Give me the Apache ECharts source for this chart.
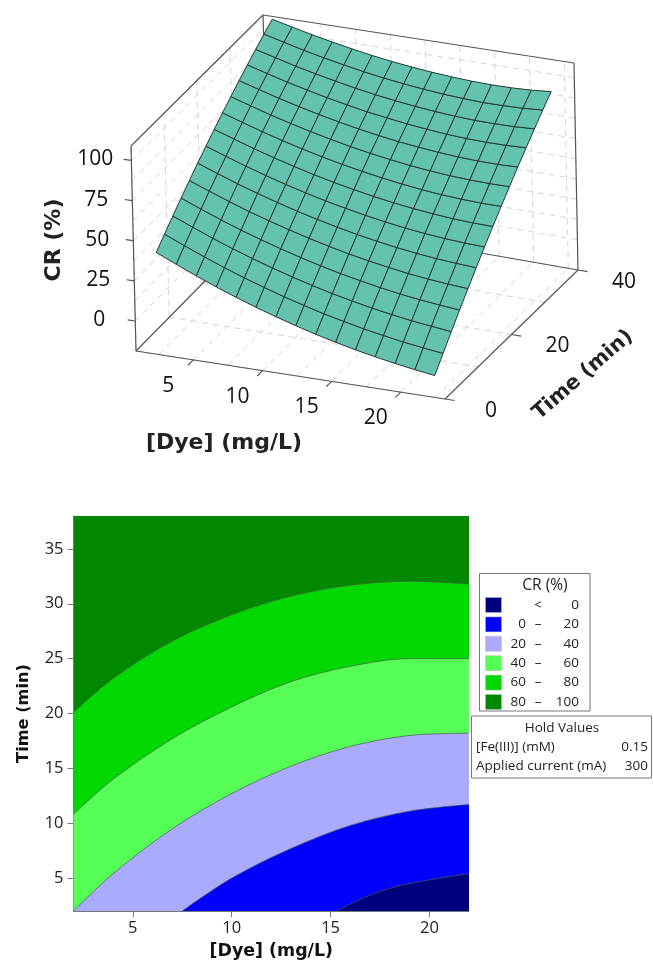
<!DOCTYPE html>
<html>
<head>
<meta charset="utf-8">
<style>html,body{margin:0;padding:0;background:#fff}#c{width:653px;height:962px}</style>
<script src="https://cdn.jsdelivr.net/npm/echarts@6/dist/echarts.min.js"></script>
</head>
<body>
<div id="c"></div>
<script>
// ---------- contour plot data: [Dye, Time] points along each CR level ----------
const contour80 = [[2,20.1],[4,23.2],[7,26.6],[10,29],[13,30.7],[16,31.7],[19,32.05],[22,31.8]];
const contour60 = [[2,10.8],[4,14],[7,17.7],[10,20.6],[13,22.9],[16,24.3],[19,25],[22,25]];
const contour40 = [[2,2],[4,5.4],[7,9.5],[10,12.7],[13,15.2],[16,17],[19,18],[22,18.2]];
const contour20 = [[7.5,2],[10,5],[13,7.7],[16,9.8],[19,11.1],[22,11.7]];
const contour0  = [[15.3,2],[17.2,3.6],[19,4.5],[22,5.4]];

// ---------- legend / hold values ----------
const bandColors = ['#00007f','#0000ff','#aaaaff','#55ff55','#00d800','#008800'];
const bandFrom   = ['', '0', '20', '40', '60', '80'];
const bandSep    = ['<', '\u2013', '\u2013', '\u2013', '\u2013', '\u2013'];
const bandTo     = ['0', '20', '40', '60', '80', '100'];
const holdNames  = ['[Fe(III)] (mM)', 'Applied current (mA)'];
const holdValues = ['0.15', '300'];

// ---------- 3D surface data ----------
const dyeTicks  = [5, 10, 15, 20];
const timeTicks = [0, 20, 40];
const crTicks   = [0, 25, 50, 75, 100];
const contourDyeTicks  = [5, 10, 15, 20];
const contourTimeTicks = [5, 10, 15, 20, 25, 30, 35];
const meshDye  = [2,3.43,4.86,6.29,7.71,9.14,10.57,12,13.43,14.86,16.29,17.71,19.14,20.57,22];
const meshTime = [2,4.57,7.14,9.71,12.29,14.86,17.43,20,22.57,25.14,27.71,30.29,32.86,35.43,38];
// one row per Dye value, one column per Time value
const meshCR = [
 [40,46.1,52.1,58,63.6,69.2,74.5,79.8,84.8,89.7,94.5,99.1,103.6,107.9,112],
 [34.4,40.7,46.9,52.9,58.8,64.5,70,75.5,80.7,85.8,90.8,95.5,100.2,104.7,109],
 [29,35.5,41.8,48,54.1,59.9,65.7,71.3,76.7,81.9,87.1,92,96.8,101.5,106],
 [24,30.7,37.2,43.5,49.7,55.8,61.7,67.5,73,78.5,83.8,88.9,93.9,98.7,103.4],
 [19.4,26.2,32.9,39.4,45.8,52,58,64,69.7,75.3,80.8,86,91.2,96.2,101],
 [15.1,22.1,28.9,35.6,42.1,48.4,54.6,60.7,66.6,72.4,78,83.4,88.7,93.8,98.8],
 [11.1,18.2,25.2,32,38.7,45.2,51.5,57.8,63.8,69.7,75.5,81,86.5,91.8,96.9],
 [7.4,14.7,21.8,28.8,35.6,42.3,48.8,55.2,61.4,67.4,73.3,79.1,84.7,90.1,95.4],
 [4,11.4,18.7,25.8,32.8,39.6,46.3,52.8,59.2,65.4,71.4,77.3,83.1,88.7,94.1],
 [1,8.6,16,23.3,30.4,37.3,44.1,50.8,57.3,63.6,69.9,75.9,81.8,87.5,93.1],
 [-1.8,5.9,13.5,20.9,28.2,35.3,42.2,49.1,55.7,62.2,68.6,74.7,80.8,86.7,92.4],
 [-4.2,3.7,11.4,18.9,26.3,33.6,40.7,47.7,54.4,61.1,67.6,73.9,80.1,86.1,92],
 [-6.4,1.6,9.5,17.2,24.8,32.2,39.5,46.6,53.6,60.4,67,73.5,79.9,86.1,92.1],
 [-8.3,-0.1,8,15.9,23.6,31.2,38.6,45.9,53,60,66.8,73.5,80,86.4,92.6],
 [-10,-1.6,6.6,14.7,22.7,30.4,38.1,45.6,52.9,60,67.1,73.9,80.6,87.2,93.6]
];

// ---------- 3D view: where the box's corners land on the page ----------
const boxRange = {xMin:0.85, xMax:23.2, tMin:0, tMax:40, zMin:-18.7, zMax:109};
const view = {
  floor:{a:[136,351], b:[445,399], c:[578,270], d:[269,216]},
  top:  {a:[131,146], b:[441,187], c:[574,63],  d:[263,15]}
};
function lerp(p,q,s){return [p[0]+(q[0]-p[0])*s,p[1]+(q[1]-p[1])*s];}
function project(x,t,z){
  const u=(x-boxRange.xMin)/(boxRange.xMax-boxRange.xMin),
        v=(t-boxRange.tMin)/(boxRange.tMax-boxRange.tMin),
        w=(z-boxRange.zMin)/(boxRange.zMax-boxRange.zMin);
  const f=lerp(lerp(view.floor.a,view.floor.b,u),lerp(view.floor.d,view.floor.c,u),v);
  const g=lerp(lerp(view.top.a,view.top.b,u),lerp(view.top.d,view.top.c,u),v);
  return lerp(f,g,w);
}

const R=boxRange;
const FONT='"Open Sans", "Noto Sans", sans-serif';
const BOLD='"DejaVu Sans", sans-serif';
// wall and floor grid
const gridSegs=[];
const xGrid=[2.5,5,7.5,10,12.5,15,17.5,20,22.5];
const tGrid=[0,10,20,30,40];
const zGrid=[0,12.5,25,37.5,50,62.5,75,87.5,100];
xGrid.forEach(x=>{gridSegs.push([[x,R.tMin,R.zMin],[x,R.tMax,R.zMin]]);gridSegs.push([[x,R.tMax,R.zMin],[x,R.tMax,R.zMax]]);});
tGrid.forEach(t=>{gridSegs.push([[R.xMin,t,R.zMin],[R.xMax,t,R.zMin]]);gridSegs.push([[R.xMin,t,R.zMin],[R.xMin,t,R.zMax]]);});
zGrid.forEach(z=>{gridSegs.push([[R.xMin,R.tMin,z],[R.xMin,R.tMax,z]]);gridSegs.push([[R.xMin,R.tMax,z],[R.xMax,R.tMax,z]]);});
// frame
const frameSegs=[
 [[R.xMin,R.tMin,R.zMin],[R.xMax,R.tMin,R.zMin]],
 [[R.xMax,R.tMin,R.zMin],[R.xMax,R.tMax,R.zMin]],
 [[R.xMax,R.tMax,R.zMin],[R.xMin,R.tMax,R.zMin]],
 [[R.xMin,R.tMax,R.zMin],[R.xMin,R.tMin,R.zMin]],
 [[R.xMin,R.tMin,R.zMin],[R.xMin,R.tMin,R.zMax]],
 [[R.xMin,R.tMax,R.zMin],[R.xMin,R.tMax,R.zMax]],
 [[R.xMax,R.tMax,R.zMin],[R.xMax,R.tMax,R.zMax]],
 [[R.xMin,R.tMin,R.zMax],[R.xMin,R.tMax,R.zMax]],
 [[R.xMin,R.tMax,R.zMax],[R.xMax,R.tMax,R.zMax]]
];
dyeTicks.forEach(x=>frameSegs.push([[x,R.tMin,R.zMin],[x,R.tMin-1.6,R.zMin]]));
timeTicks.forEach(t=>frameSegs.push([[R.xMax,t,R.zMin],[R.xMax+0.7,t,R.zMin]]));
crTicks.forEach(z=>frameSegs.push([[R.xMin,R.tMin,z],[R.xMin-0.55,R.tMin,z]]));
// tick label anchors
const labels3d=[];
dyeTicks.forEach(x=>labels3d.push({p:[x,R.tMin,R.zMin],dx:-25,dy:26,text:String(x)}));
timeTicks.forEach(t=>labels3d.push({p:[R.xMax,t,R.zMin],dx:46,dy:12,text:String(t)}));
crTicks.forEach(z=>labels3d.push({p:[R.xMin,R.tMin,z],dx:-36,dy:-1,text:String(z)}));
// mesh cells
const cells=[];
for(let i=0;i<meshDye.length-1;i++)for(let j=0;j<meshTime.length-1;j++)cells.push([i,j]);

function segRender(segs,style){
  return function(params,api){
    const s=segs[params.dataIndex];
    const p=api.coord(project.apply(null,s[0])),q=api.coord(project.apply(null,s[1]));
    return {type:'line',shape:{x1:p[0],y1:p[1],x2:q[0],y2:q[1]},style:style,silent:true};
  };
}
function meshRender(params,api){
  const c=cells[params.dataIndex],i=c[0],j=c[1];
  const corner=(a,b)=>api.coord(project(meshDye[a],meshTime[b],meshCR[a][b]));
  return {type:'polygon',shape:{points:[corner(i,j),corner(i+1,j),corner(i+1,j+1),corner(i,j+1)]},
    style:{fill:'#64c3af',stroke:'#26382f',lineWidth:1,lineJoin:'round'},silent:true};
}
function labelRender(params,api){
  const l=labels3d[params.dataIndex],p=api.coord(project.apply(null,l.p));
  return {type:'text',x:p[0]+l.dx,y:p[1]+l.dy,silent:true,
    style:{text:l.text,font:'21px '+FONT,fill:'#111',align:'center',verticalAlign:'middle'}};
}
const idx=a=>a.map((_,i)=>i);
const view3d={xAxisIndex:1,yAxisIndex:1,clip:false,silent:true,animation:false};

const contourSeries=[[contour80,bandColors[4],'60 - 80'],[contour60,bandColors[3],'40 - 60'],[contour40,bandColors[2],'20 - 40'],[contour20,bandColors[1],'0 - 20'],[contour0,bandColors[0],'< 0']]
 .map(d=>({type:'line',name:d[2],data:d[0],smooth:0.33,showSymbol:false,silent:true,animation:false,
   lineStyle:{color:'#4a5a4a',width:0.7},areaStyle:{color:d[1],opacity:1,origin:'start'},xAxisIndex:0,yAxisIndex:0}));

// legend and hold value graphics
const g=[];
const tx=(text,x,y,align,size,family,weight,rot)=>({type:'text',x:x,y:y,rotation:rot||0,silent:true,
  style:{text:text,font:(weight||'normal')+' '+(size||13)+'px '+(family||FONT),fill:'#222',align:align||'left',verticalAlign:'middle'}});
g.push({type:'rect',shape:{x:479.5,y:573.5,width:110.5,height:137.5},style:{fill:'#fff',stroke:'#777',lineWidth:1}});
g.push(tx('CR (%)',545,586,'center',15.5));
bandColors.forEach((col,i)=>{
  const y=605+i*19.4;
  g.push({type:'rect',shape:{x:485.5,y:y-7.5,width:16,height:15},style:{fill:col,stroke:'#bbb',lineWidth:0.5}});
  if(bandFrom[i])g.push(tx(bandFrom[i],526,y,'right',13.5));
  g.push(tx(bandSep[i],538,y,'center',13.5));
  g.push(tx(bandTo[i],579,y,'right',13.5));
});
g.push({type:'rect',shape:{x:471.5,y:716,width:180,height:62},style:{fill:'#fff',stroke:'#777',lineWidth:1}});
g.push(tx('Hold Values',562,728,'center',13.5));
holdNames.forEach((n,i)=>{
  g.push(tx(n,476,747+i*19,'left',13.5));
  g.push(tx(holdValues[i],648,747+i*19,'right',13.5));
});
// 3D axis titles
g.push(tx('CR (%)',54,240,'center',22,BOLD,'bold',Math.PI/2));
g.push(tx('[Dye] (mg/L)',224,443,'center',22,BOLD,'bold'));
g.push(tx('Time (min)',583,375,'center',20.5,BOLD,'bold',41*Math.PI/180));

const chart=echarts.init(document.getElementById('c'),null,{renderer:'canvas',width:653,height:962});
chart.setOption({
  animation:false,
  backgroundColor:'#fff',
  grid:[
    {left:73.5,top:516,width:395.5,height:395,show:true,backgroundColor:bandColors[5],borderWidth:0,containLabel:false},
    {left:0,top:0,width:653,height:962,show:false}
  ],
  xAxis:[
    {type:'value',min:2,max:22,gridIndex:0,name:'[Dye] (mg/L)',nameLocation:'middle',nameGap:32,
     nameTextStyle:{fontFamily:BOLD,fontWeight:'bold',fontSize:17.4,color:'#111'},
     splitLine:{show:false},
     axisLine:{show:true,onZero:false,lineStyle:{color:'#777',width:1}},
     axisTick:{show:true,length:6,customValues:contourDyeTicks,lineStyle:{color:'#777'}},
     axisLabel:{show:true,customValues:contourDyeTicks,fontFamily:FONT,fontSize:16.5,color:'#222',margin:9,hideOverlap:false}},
    {type:'value',min:0,max:653,gridIndex:1,show:false}
  ],
  yAxis:[
    {type:'value',min:2,max:38,gridIndex:0,name:'Time (min)',nameLocation:'middle',nameGap:42,
     nameTextStyle:{fontFamily:BOLD,fontWeight:'bold',fontSize:16.2,color:'#111'},
     splitLine:{show:false},
     axisLine:{show:true,onZero:false,lineStyle:{color:'#777',width:1}},
     axisTick:{show:true,length:6,customValues:contourTimeTicks,lineStyle:{color:'#777'}},
     axisLabel:{show:true,customValues:contourTimeTicks,fontFamily:FONT,fontSize:16.5,color:'#222',margin:10,hideOverlap:false}},
    {type:'value',min:0,max:962,inverse:true,gridIndex:1,show:false}
  ],
  graphic:{elements:g},
  series:[
    {type:'custom',name:'walls',coordinateSystem:'cartesian2d',data:idx(gridSegs),z:1,...view3d,
     renderItem:segRender(gridSegs,{stroke:'#d4d4d4',lineWidth:1,lineDash:[6,5]})},
    {type:'custom',name:'frame',coordinateSystem:'cartesian2d',data:idx(frameSegs),z:2,...view3d,
     renderItem:segRender(frameSegs,{stroke:'#555',lineWidth:1.2})},
    {type:'custom',name:'CR surface',coordinateSystem:'cartesian2d',data:idx(cells),z:3,...view3d,renderItem:meshRender},
    {type:'custom',name:'labels',coordinateSystem:'cartesian2d',data:idx(labels3d),z:4,...view3d,renderItem:labelRender},
    ...contourSeries
  ]
});
</script>
</body>
</html>
